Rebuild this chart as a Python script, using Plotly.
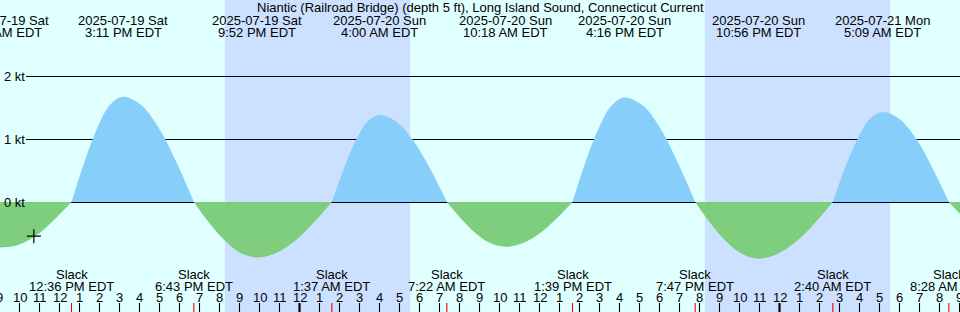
import pandas as pd
import plotly.graph_objects as go

# ---------------- data ----------------
title_text = "Niantic (Railroad Bridge) (depth 5 ft), Long Island Sound, Connecticut Current"

curve_times = [
    "2025-07-19 08:50", "2025-07-19 09:12", "2025-07-19 10:04", "2025-07-19 10:55", "2025-07-19 11:45",
    "2025-07-19 12:36", "2025-07-19 13:15", "2025-07-19 13:54", "2025-07-19 14:32", "2025-07-19 15:11",
    "2025-07-19 16:04", "2025-07-19 16:57", "2025-07-19 17:50", "2025-07-19 18:43", "2025-07-19 19:30",
    "2025-07-19 20:18", "2025-07-19 21:05", "2025-07-19 21:52", "2025-07-19 22:48", "2025-07-19 23:45",
    "2025-07-20 00:41", "2025-07-20 01:37", "2025-07-20 02:13", "2025-07-20 02:49", "2025-07-20 03:24",
    "2025-07-20 04:00", "2025-07-20 04:51", "2025-07-20 05:41", "2025-07-20 06:32", "2025-07-20 07:22",
    "2025-07-20 08:06", "2025-07-20 08:50", "2025-07-20 09:34", "2025-07-20 10:18", "2025-07-20 11:08",
    "2025-07-20 11:59", "2025-07-20 12:49", "2025-07-20 13:39", "2025-07-20 14:18", "2025-07-20 14:58",
    "2025-07-20 15:37", "2025-07-20 16:16", "2025-07-20 17:09", "2025-07-20 18:02", "2025-07-20 18:54",
    "2025-07-20 19:47", "2025-07-20 20:34", "2025-07-20 21:22", "2025-07-20 22:09", "2025-07-20 22:56",
    "2025-07-20 23:52", "2025-07-21 00:48", "2025-07-21 01:44", "2025-07-21 02:40", "2025-07-21 03:17",
    "2025-07-21 03:55", "2025-07-21 04:32", "2025-07-21 05:09", "2025-07-21 05:59", "2025-07-21 06:49",
    "2025-07-21 07:38", "2025-07-21 08:28", "2025-07-21 09:00", "2025-07-21 09:30",
]
curve_knots = [
    -0.71, -0.72, -0.665, -0.51, -0.276,
    0.0, 0.639, 1.181, 1.543, 1.67,
    1.543, 1.181, 0.639, 0.0, -0.337,
    -0.622, -0.813, -0.88, -0.813, -0.622,
    -0.337, 0.0, 0.528, 0.976, 1.275,
    1.38, 1.275, 0.976, 0.528, 0.0,
    -0.272, -0.502, -0.656, -0.71, -0.656,
    -0.502, -0.272, 0.0, 0.635, 1.174,
    1.534, 1.66, 1.534, 1.174, 0.635,
    0.0, -0.344, -0.636, -0.831, -0.90,
    -0.831, -0.636, -0.344, 0.0, 0.547,
    1.011, 1.321, 1.43, 1.321, 1.011,
    0.547, 0.0, -0.18, -0.33,
]

max_times = ["2025-07-19 09:12", "2025-07-19 15:11", "2025-07-19 21:52", "2025-07-20 04:00",
             "2025-07-20 10:18", "2025-07-20 16:16", "2025-07-20 22:56", "2025-07-21 05:09"]
max_dates = ["2025-07-19 Sat", "2025-07-19 Sat", "2025-07-19 Sat", "2025-07-20 Sun",
             "2025-07-20 Sun", "2025-07-20 Sun", "2025-07-20 Sun", "2025-07-21 Mon"]
max_clock = ["9:12 AM EDT", "3:11 PM EDT", "9:52 PM EDT", "4:00 AM EDT",
             "10:18 AM EDT", "4:16 PM EDT", "10:56 PM EDT", "5:09 AM EDT"]

slack_times = ["2025-07-19 12:36", "2025-07-19 18:43", "2025-07-20 01:37", "2025-07-20 07:22",
               "2025-07-20 13:39", "2025-07-20 19:47", "2025-07-21 02:40", "2025-07-21 08:28"]
slack_clock = ["12:36 PM EDT", "6:43 PM EDT", "1:37 AM EDT", "7:22 AM EDT",
               "1:39 PM EDT", "7:47 PM EDT", "2:40 AM EDT", "8:28 AM EDT"]

sunset_times = ["2025-07-19 20:16", "2025-07-20 20:16"]
sunrise_times = ["2025-07-20 05:32", "2025-07-21 05:32"]

level_lines = [2, 1, 0]
level_labels = ["2 kt", "1 kt", "0 kt"]

mark_time = "2025-07-19 10:43"
mark_value = -0.543

view_start = pd.Timestamp("2025-07-19 09:01:30")
view_hours = 48
y_range = [-1.746, 3.2063]

# ---------------- styles ----------------
W, H = 960, 312
DAY = "#e0ffff"
NIGHT = "#cce0ff"
FLOOD = "#87cefa"
EBB = "#7ece7e"
FONT = dict(family="Liberation Sans, Arial, sans-serif", size=13, color="black")
HALF_PX = (y_range[1] - y_range[0]) / H / 2   # half a pixel in data units (crisp lines)

view_end = view_start + pd.Timedelta(hours=view_hours)

fig = go.Figure()

# split curve into half-cycles at the slack (zero) knots
segments = []
cur_t, cur_v = [], []
for t, v in zip(curve_times, curve_knots):
    cur_t.append(t)
    cur_v.append(v)
    if v == 0 and len(cur_t) > 1:
        segments.append((cur_t, cur_v))
        cur_t, cur_v = [t], [v]
if len(cur_t) > 1:
    segments.append((cur_t, cur_v))

for ts, vs in segments:
    col = FLOOD if max(vs) > 0 else EBB
    fig.add_trace(go.Scatter(x=ts, y=vs, mode="lines", line=dict(shape="spline", smoothing=1, width=0, color=col),
                             fill="tozeroy", fillcolor=col, hoverinfo="skip", showlegend=False))

fig.add_trace(go.Scatter(x=[mark_time], y=[mark_value], mode="markers",
                         marker=dict(symbol="cross-thin", size=10, line=dict(width=1.2, color="black")),
                         hoverinfo="skip", showlegend=False))

shapes = []
for s0, s1 in zip(sunset_times, sunrise_times):
    shapes.append(dict(type="rect", xref="x", yref="paper", x0=s0, x1=s1, y0=0, y1=1,
                       fillcolor=NIGHT, line=dict(width=0), layer="below"))
for lv in level_lines:
    shapes.append(dict(type="line", xref="paper", yref="y", x0=26 / W, x1=1, y0=lv - HALF_PX, y1=lv - HALF_PX,
                       line=dict(color="black", width=1), layer="below"))

# hour ticks
hours = pd.date_range(view_start.floor("h"), view_end, freq="h")
tick_h = 9 / H
for h in hours:
    if h < view_start:
        continue
    shapes.append(dict(type="line", xref="x", yref="paper", x0=h, x1=h, y0=0, y1=tick_h,
                       line=dict(color="black", width=2.2 if h.hour == 0 else 1.1)))
for st in slack_times:
    shapes.append(dict(type="line", xref="x", yref="paper", x0=st, x1=st, y0=0, y1=tick_h,
                       line=dict(color="red", width=1.1)))

ann = []
ann.append(dict(text=title_text, xref="paper", yref="paper", x=0.5, y=1 - 7.5 / H,
                xanchor="center", yanchor="middle", showarrow=False, font=FONT))
for t, d, c in zip(max_times, max_dates, max_clock):
    ann.append(dict(text=d, xref="x", yref="paper", x=t, y=1 - 20.5 / H, xanchor="center",
                    yanchor="middle", showarrow=False, font=FONT))
    ann.append(dict(text=c, xref="x", yref="paper", x=t, y=1 - 32.5 / H, xanchor="center",
                    yanchor="middle", showarrow=False, font=FONT))
for t, c in zip(slack_times, slack_clock):
    ann.append(dict(text="Slack", xref="x", yref="paper", x=t, y=1 - 274 / H, xanchor="center",
                    yanchor="middle", showarrow=False, font=FONT))
    ann.append(dict(text=c, xref="x", yref="paper", x=t, y=1 - 286 / H, xanchor="center",
                    yanchor="middle", showarrow=False, font=FONT))
span = (view_end - view_start).total_seconds()
for h in hours:
    lab = str(h.hour % 12 or 12)
    if h >= view_start:
        ann.append(dict(text=lab, xref="x", yref="paper", x=h, y=1 - 297.5 / H, xanchor="center",
                        yanchor="middle", showarrow=False, font=FONT))
    else:
        xp = (h - view_start).total_seconds() / span
        ann.append(dict(text=lab, xref="paper", yref="paper", x=xp, y=1 - 297.5 / H, xanchor="center",
                        yanchor="middle", showarrow=False, font=FONT))
for lv, lab in zip(level_lines, level_labels):
    ann.append(dict(text=lab, xref="paper", yref="y", x=2 / W, y=lv, xanchor="left",
                    yanchor="middle", showarrow=False, font=FONT))

fig.update_layout(
    width=W, height=H, margin=dict(l=0, r=0, t=0, b=0),
    paper_bgcolor=DAY, plot_bgcolor=DAY,
    xaxis=dict(type="date", range=[view_start, view_end], visible=False, fixedrange=True),
    yaxis=dict(range=y_range, visible=False, fixedrange=True),
    shapes=shapes, annotations=ann, showlegend=False,
)

fig.write_html("out.html", config=dict(displayModeBar=False))
